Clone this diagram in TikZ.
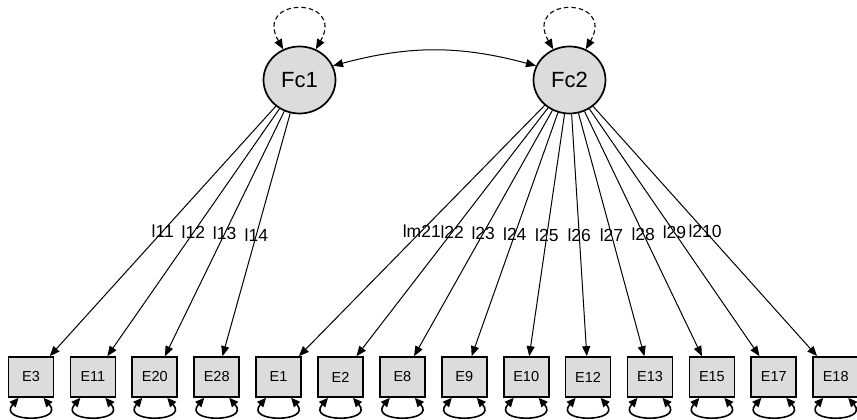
\documentclass[tikz,border=0pt]{standalone}
\usepackage{fontspec}
\setmainfont{Liberation Sans}
\usetikzlibrary{arrows.meta,shapes.geometric}
\definecolor{nodegray}{RGB}{220,220,220}
\begin{document}
\begin{tikzpicture}[x=1pt,y=1pt,
 latent/.style={ellipse,draw,line width=1.7pt,fill=nodegray,minimum width=72pt,minimum height=67pt,inner sep=0pt,font=\fontsize{22}{26}\selectfont},
 manifest/.style={rectangle,draw,line width=1.7pt,fill=nodegray,minimum width=45pt,minimum height=40pt,inner sep=0pt,font=\fontsize{14.5}{17}\selectfont},
 tip/.tip={Triangle[length=10pt,width=8pt]},
 smalltip/.tip={Triangle[length=9pt,width=8pt]},
 load/.style={-tip,line width=1pt},
 lbl/.style={font=\fontsize{17.5}{20}\selectfont,inner sep=0pt},
 cov/.style={tip-tip,line width=1pt},
 varloop/.style={tip-tip,line width=1.1pt,dash pattern=on 4.5pt off 3pt},
 resid/.style={smalltip-smalltip,line width=1.6pt},
]
\useasboundingbox (0,0) rectangle (857,420);
\node[latent] (Fc1) at (299.5,340) {Fc1};
\node[latent] (Fc2) at (569.5,340) {Fc2};
\foreach \n [count=\i from 0] in {E3,E11,E20,E28,E1,E2,E8,E9,E10,E12,E13,E15,E17,E18}{
  \node[manifest] (\n) at ({31+61.9*\i},43) {\n};
  \draw[resid] ([xshift=-12.5pt]\n.south) .. controls +(-22,-25) and +(22,-25) .. ([xshift=12.5pt]\n.south);
}
\foreach \t/\l in {E3/l11,E11/l12,E20/l13,E28/l14}
  \draw[load] (Fc1) -- node[lbl,pos=0.5]{\l} (\t);
\foreach \t/\l in {E1/lm21,E2/l22,E8/l23,E9/l24,E10/l25,E12/l26,E13/l27,E15/l28,E17/l29,E18/l210}
  \draw[load] (Fc2) -- node[lbl,pos=0.5]{\l} (\t);
\draw[cov] (Fc1.23) to[out=15,in=165] (Fc2.157);
\draw[varloop] (Fc1.118) .. controls +(-30,53) and +(30,53) .. (Fc1.62);
\draw[varloop] (Fc2.118) .. controls +(-30,53) and +(30,53) .. (Fc2.62);
\end{tikzpicture}
\end{document}
